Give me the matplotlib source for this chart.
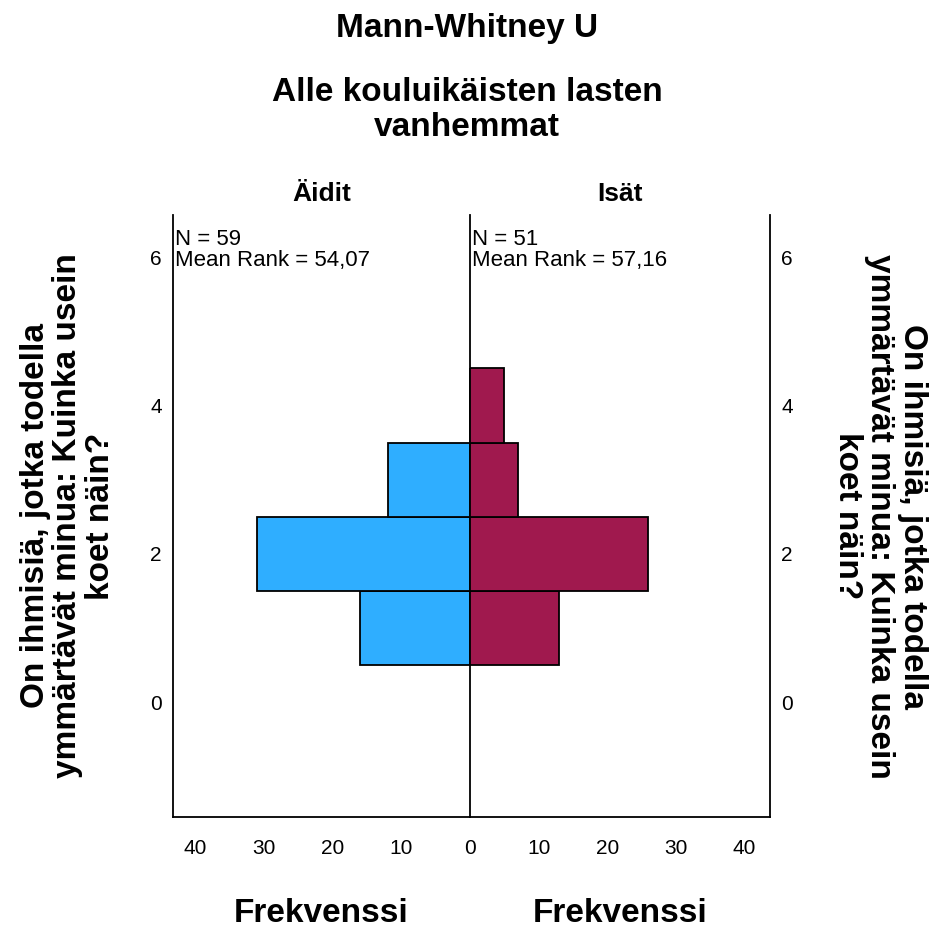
import matplotlib
matplotlib.use("Agg")
import matplotlib.pyplot as plt

plt.rcParams['font.family'] = ['Liberation Sans', 'DejaVu Sans']

categories = [1, 2, 3, 4]
aidit_freq = [16, 31, 12, 0]
isat_freq = [13, 26, 7, 5]
group_names = ['Äidit', 'Isät']
group_stats = ['N = 59\nMean Rank = 54,07', 'N = 51\nMean Rank = 57,16']
y_ticks = [0, 2, 4, 6]
x_ticks = [0, 10, 20, 30, 40]

ylabel = 'On ihmisiä, jotka todella\nymmärtävät minua: Kuinka usein\nkoet näin?'
blue = '#2FAEFF'
red = '#A0194E'

W, H = 934, 927
fig = plt.figure(figsize=(W / 100, H / 100), dpi=100)
ax_l = fig.add_axes([173 / W, 1 - 817 / H, 297 / W, 602 / H])
ax_r = fig.add_axes([470 / W, 1 - 817 / H, 300 / W, 602 / H])

ax_l.barh(categories, aidit_freq, height=1.0, color=blue, edgecolor='black', linewidth=1.3)
ax_r.barh(categories, isat_freq, height=1.0, color=red, edgecolor='black', linewidth=1.3)

for ax in (ax_l, ax_r):
    ax.set_facecolor('none')
    ax.set_ylim(-1.55, 6.57)
    ax.set_yticks(y_ticks)
    ax.set_xticks(x_ticks if ax is ax_l else x_ticks[1:])
    ax.tick_params(length=0, labelsize=15)
    ax.tick_params(axis='x', pad=16)
    ax.tick_params(axis='y', pad=8)
    ax.spines['top'].set_visible(False)
    for s in ('left', 'right', 'bottom'):
        ax.spines[s].set_linewidth(1.3)

ax_l.set_xlim(43.3, 0)
ax_r.set_xlim(0, 43.7)
ax_r.yaxis.tick_right()
ax_r.spines['left'].set_visible(False)

for ax, name, stats in zip((ax_l, ax_r), group_names, group_stats):
    ax.set_title(name, fontsize=19, fontweight='bold', pad=10)
    ax.text(0.008, 0.976, stats, transform=ax.transAxes, ha='left', va='top',
            fontsize=16, linespacing=1.0)
    ax.text(0.5, -0.16, 'Frekvenssi', transform=ax.transAxes, ha='center', va='center',
            fontsize=24, fontweight='bold')

fig.text(68 / W, 1 - 516 / H, ylabel, rotation=90, ha='center', va='center',
         multialignment='center', fontsize=24, fontweight='bold', linespacing=1.08)
fig.text(880 / W, 1 - 516 / H, ylabel, rotation=270, ha='center', va='center',
         multialignment='center', fontsize=24, fontweight='bold', linespacing=1.08)

fig.text(0.5, 1 - 28 / H, 'Mann-Whitney U', ha='center', va='center', fontsize=24, fontweight='bold')
fig.text(0.5, 1 - 110 / H, 'Alle kouluikäisten lasten\nvanhemmat', ha='center', va='center',
         fontsize=24, fontweight='bold', linespacing=1.15)

fig.savefig('out.png', dpi=100)
